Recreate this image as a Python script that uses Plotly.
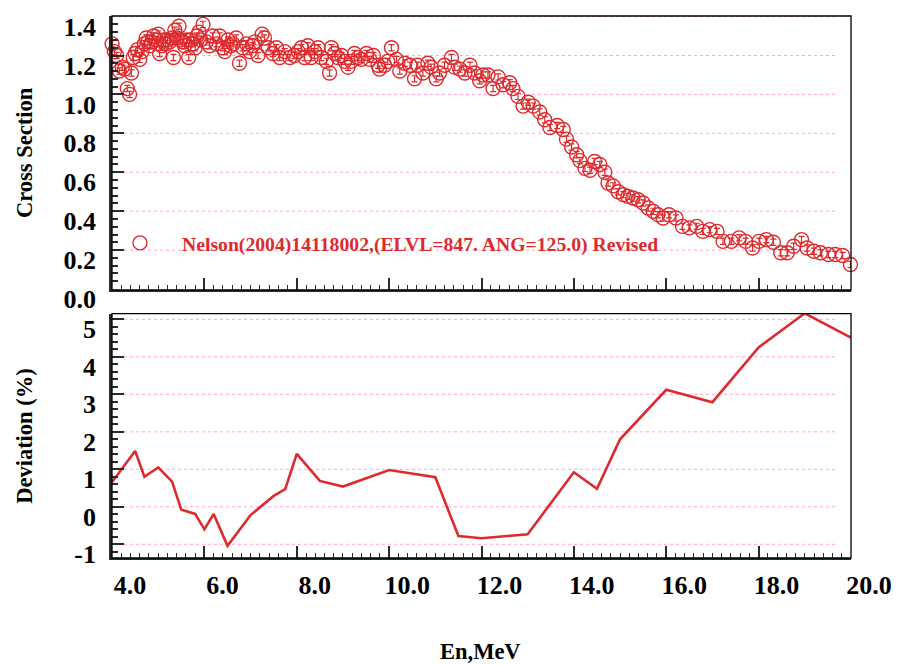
import plotly.graph_objects as go

# ---------------- data ----------------
energy = [4.00, 4.05, 4.10, 4.16, 4.22, 4.27, 4.33, 4.38, 4.42, 4.46, 4.50, 4.55, 4.60, 4.65, 4.70, 4.74,
          4.78, 4.82, 4.86, 4.90, 4.95, 5.00, 5.03, 5.07, 5.12, 5.16, 5.20, 5.25, 5.30, 5.33, 5.36, 5.41,
          5.45, 5.49, 5.53, 5.57, 5.62, 5.66, 5.70, 5.75, 5.80, 5.84, 5.88, 5.92, 5.97, 6.04, 6.11, 6.18,
          6.26, 6.33, 6.40, 6.44, 6.51, 6.57, 6.62, 6.69, 6.76, 6.83, 6.91, 6.98, 7.04, 7.09, 7.16, 7.25,
          7.30, 7.38, 7.48, 7.56, 7.63, 7.74, 7.85, 7.95, 8.03, 8.10, 8.17, 8.24, 8.31, 8.39, 8.46, 8.53,
          8.64, 8.71, 8.75, 8.82, 8.89, 8.97, 9.04, 9.11, 9.18, 9.25, 9.33, 9.40, 9.51, 9.58, 9.66, 9.76,
          9.79, 9.90, 9.97, 10.05, 10.16, 10.23, 10.34, 10.45, 10.55, 10.62, 10.73, 10.84, 10.91, 11.02,
          11.09, 11.20, 11.35, 11.42, 11.53, 11.64, 11.75, 11.85, 11.96, 12.03, 12.14, 12.25, 12.36,
          12.47, 12.61, 12.68, 12.79, 12.90, 13.01, 13.12, 13.26, 13.37, 13.48, 13.64, 13.77, 13.84,
          13.95, 14.06, 14.13, 14.24, 14.35, 14.45, 14.56, 14.67, 14.74, 14.85, 14.96, 15.07, 15.17,
          15.28, 15.39, 15.50, 15.61, 15.72, 15.82, 15.93, 16.06, 16.21, 16.35, 16.50, 16.66, 16.79,
          16.94, 17.10, 17.23, 17.41, 17.58, 17.72, 17.87, 18.01, 18.17, 18.32, 18.48, 18.62, 18.76,
          18.93, 19.05, 19.20, 19.34, 19.51, 19.66, 19.82, 19.99]
cross_section = [1.26, 1.22, 1.20, 1.12, 1.14, 1.13, 1.03, 1.00, 1.11, 1.19, 1.21, 1.23, 1.18, 1.22, 1.26, 1.29,
                 1.27, 1.25, 1.27, 1.30, 1.28, 1.31, 1.21, 1.25, 1.28, 1.26, 1.28, 1.27, 1.29, 1.19, 1.33, 1.29,
                 1.35, 1.28, 1.27, 1.25, 1.28, 1.19, 1.28, 1.26, 1.24, 1.30, 1.32, 1.28, 1.36, 1.27, 1.25, 1.30,
                 1.26, 1.30, 1.24, 1.22, 1.28, 1.25, 1.26, 1.29, 1.16, 1.24, 1.26, 1.22, 1.25, 1.27, 1.20, 1.31,
                 1.29, 1.24, 1.21, 1.24, 1.19, 1.22, 1.19, 1.20, 1.22, 1.24, 1.19, 1.25, 1.19, 1.22, 1.24, 1.19,
                 1.17, 1.11, 1.24, 1.21, 1.19, 1.20, 1.17, 1.14, 1.17, 1.21, 1.19, 1.18, 1.21, 1.18, 1.20, 1.15,
                 1.13, 1.15, 1.17, 1.24, 1.18, 1.12, 1.16, 1.15, 1.08, 1.15, 1.11, 1.16, 1.14, 1.08,
                 1.11, 1.15, 1.19, 1.14, 1.13, 1.11, 1.15, 1.11, 1.07, 1.10, 1.10, 1.03, 1.09,
                 1.05, 1.06, 1.03, 0.99, 0.94, 0.96, 0.94, 0.91, 0.87, 0.83, 0.84, 0.82, 0.77,
                 0.73, 0.69, 0.66, 0.62, 0.61, 0.655, 0.64, 0.60, 0.545, 0.53, 0.50, 0.485, 0.476,
                 0.468, 0.459, 0.442, 0.416, 0.399, 0.382, 0.365, 0.382, 0.365, 0.322, 0.314, 0.322, 0.296,
                 0.305, 0.296, 0.245, 0.245, 0.263, 0.245, 0.211, 0.245, 0.254, 0.240, 0.186, 0.186, 0.220,
                 0.254, 0.211, 0.194, 0.186, 0.177, 0.177, 0.172, 0.126]

dev_energy = [4.0, 4.5, 4.7, 5.0, 5.3, 5.5, 5.8, 6.0, 6.2, 6.5, 7.0, 7.5, 7.75, 8.0, 8.5, 9.0,
              10.0, 11.0, 11.5, 12.0, 13.0, 14.0, 14.5, 15.0, 16.0, 17.0, 18.0, 19.0, 20.0]
deviation = [0.66, 1.49, 0.80, 1.05, 0.67, -0.08, -0.19, -0.60, -0.19, -1.04, -0.22, 0.29, 0.47, 1.41,
             0.69, 0.54, 0.98, 0.79, -0.78, -0.84, -0.73, 0.92, 0.48, 1.80, 3.12, 2.79, 4.25, 5.16, 4.51]

top_ticks = [0.0, 0.2, 0.4, 0.6, 0.8, 1.0, 1.2, 1.4]
bot_ticks = [-1, 0, 1, 2, 3, 4, 5]
bot_ticktext = ["-1", "0", "1", "2", "3", "4", "5"]
x_ticks = [4, 6, 8, 10, 12, 14, 16, 18, 20]
legend_name = "Nelson(2004)14118002,(ELVL=847. ANG=125.0) Revised"

# ---------------- style ----------------
RED = "#dc2a2e"
AX = "#2b2b2b"
FONT = "Liberation Serif"
PINK = "#ffa6d2"

fig = go.Figure()

fig.add_trace(go.Scatter(
    x=energy, y=cross_section, mode="markers", xaxis="x", yaxis="y",
    marker=dict(symbol="circle-open", size=14, color=RED, line=dict(width=1.4, color=RED)),
    error_y=dict(type="constant", value=0.016, color=RED, thickness=1.2, width=3),
    cliponaxis=False, showlegend=False, hoverinfo="skip"))

fig.add_trace(go.Scatter(
    x=[None], y=[None], mode="markers", xaxis="x", yaxis="y", name=legend_name,
    marker=dict(symbol="circle-open", size=14, color=RED, line=dict(width=1.4, color=RED)),
    showlegend=True))

fig.add_trace(go.Scatter(
    x=dev_energy, y=deviation, mode="lines", xaxis="x2", yaxis="y2",
    line=dict(color=RED, width=2.6), showlegend=False, cliponaxis=False, hoverinfo="skip"))

tickfont = dict(family=FONT, size=26, color="black", weight="bold")

common_x = dict(range=[3.999, 20.001], tickmode="array", tickvals=x_ticks,
                ticks="inside", ticklen=12, tickwidth=1.6, tickcolor=AX,
                minor=dict(ticks="inside", ticklen=5, tickwidth=1.4, tickcolor=AX, dtick=0.2, tick0=4, showgrid=False),
                showline=True, linewidth=2, linecolor=AX, showgrid=False, zeroline=False)

fig.update_layout(
    width=901, height=666,
    margin=dict(l=112, r=50, t=16, b=108, autoexpand=False),
    paper_bgcolor="white", plot_bgcolor="white",
    xaxis=dict(domain=[0, 1], anchor="y", showticklabels=False, **common_x),
    xaxis2=dict(domain=[0, 1], anchor="y2", matches="x", showticklabels=True,
                tickformat=".1f", tickfont=tickfont, ticklabelshift=18, ticklabelstandoff=3,
                **common_x),
    yaxis=dict(domain=[0.4945, 1], anchor="x", range=[-0.005, 1.403],
               tickmode="array", tickvals=top_ticks, ticktext=[f"{v:.1f}" for v in top_ticks],
               ticks="inside", ticklen=12, tickwidth=2, tickcolor=AX,
               minor=dict(ticks="inside", ticklen=6, tickwidth=2, tickcolor=AX, dtick=0.04, tick0=0, showgrid=False),
               showline=True, linewidth=2.6, linecolor=AX, showgrid=False, zeroline=False,
               tickfont=tickfont, ticklabelshift=10, ticklabelstandoff=8, ticklabeloverflow="allow"),
    yaxis2=dict(domain=[0, 0.4507], anchor="x2", range=[-1.365, 5.149],
                tickmode="array", tickvals=bot_ticks, ticktext=bot_ticktext,
                ticks="inside", ticklen=12, tickwidth=2, tickcolor=AX,
                minor=dict(ticks="inside", ticklen=6, tickwidth=2, tickcolor=AX, dtick=0.2, tick0=0, showgrid=False),
                showline=True, linewidth=2.6, linecolor=AX, showgrid=False, zeroline=False,
                tickfont=tickfont, ticklabelshift=10, ticklabelstandoff=8, ticklabeloverflow="allow"),
    legend=dict(x=-0.019, y=0.581, xanchor="left", yanchor="middle", bgcolor="rgba(0,0,0,0)",
                font=dict(family=FONT, size=19.7, color=RED, weight="bold"), itemsizing="trace",
                itemwidth=74),
    showlegend=True,
)

shapes = []
for v in top_ticks[1:]:
    shapes.append(dict(type="line", xref="x domain", yref="y", x0=0, x1=0.98, y0=v, y1=v,
                       line=dict(color=PINK, width=1, dash="dot"), layer="below"))
for v in bot_ticks:
    shapes.append(dict(type="line", xref="x2 domain", yref="y2", x0=0, x1=0.98, y0=v, y1=v,
                       line=dict(color=PINK, width=1, dash="dot"), layer="below"))
for xr, yr in (("x domain", "y domain"), ("x2 domain", "y2 domain")):
    shapes.append(dict(type="rect", xref=xr, yref=yr, x0=0, x1=1, y0=0, y1=1,
                       line=dict(color="black", width=1.3), layer="above"))
fig.update_layout(shapes=shapes)

title_font = dict(family=FONT, size=22.5, color="black", weight="bold")
fig.add_annotation(text="Cross Section", xref="paper", yref="paper", x=0, y=(0.4945 + 1) / 2,
                   xshift=-87, showarrow=False, textangle=-90, font=title_font,
                   xanchor="center", yanchor="middle")
fig.add_annotation(text="Deviation (%)", xref="paper", yref="paper", x=0, y=0.4507 / 2,
                   xshift=-87, showarrow=False, textangle=-90, font=title_font,
                   xanchor="center", yanchor="middle")
fig.add_annotation(text="En,MeV", xref="paper", yref="paper", x=0.498, y=0,
                   yshift=-93, showarrow=False, font=title_font,
                   xanchor="center", yanchor="middle")

fig.write_html("out.html")
